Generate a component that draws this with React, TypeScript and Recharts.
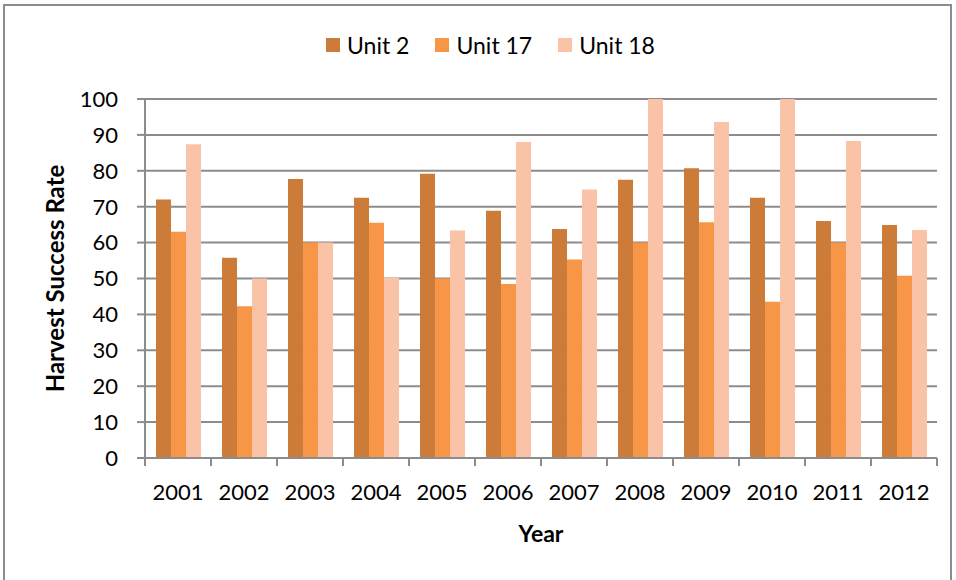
import { BarChart, Bar, XAxis, YAxis, Legend, CartesianGrid } from "recharts";

const years = ["2001", "2002", "2003", "2004", "2005", "2006", "2007", "2008", "2009", "2010", "2011", "2012"];
const unit2 = [72, 55.8, 77.7, 72.5, 79.2, 68.9, 63.8, 77.5, 80.7, 72.5, 66, 64.9];
const unit17 = [63, 42.3, 60, 65.5, 50, 48.5, 55.3, 60, 65.7, 43.5, 60, 50.8];
const unit18 = [87.4, 50, 60, 50.2, 63.4, 88, 74.8, 100, 93.6, 100, 88.3, 63.5];
const yTicks = [0, 10, 20, 30, 40, 50, 60, 70, 80, 90, 100];

const series = [
  { key: "unit2", name: "Unit 2", color: "#CC7B38" },
  { key: "unit17", name: "Unit 17", color: "#F79646" },
  { key: "unit18", name: "Unit 18", color: "#FAC3A7" },
];

const data = years.map((year, i) => ({
  year,
  unit2: unit2[i],
  unit17: unit17[i],
  unit18: unit18[i],
}));

const FONT = "Lato, 'Open Sans', sans-serif";
const AXIS = "#8c8c8c";

function YearTick(props: any) {
  const { x, y, payload, index } = props;
  const half = payload?.offset ?? 33;
  return (
    <g>
      <line x1={x - half} x2={x - half} y1={y - 8} y2={y} stroke={AXIS} strokeWidth={2} />
      {index === years.length - 1 && (
        <line x1={x + half} x2={x + half} y1={y - 8} y2={y} stroke={AXIS} strokeWidth={2} />
      )}
      <text x={x} y={y + 34} textAnchor="middle" fill="#000" fontSize={22} fontFamily={FONT}>
        {payload.value}
      </text>
    </g>
  );
}

function LegendContent() {
  return (
    <div
      style={{
        display: "flex",
        justifyContent: "center",
        alignItems: "center",
        gap: 26,
        paddingLeft: 44,
        fontFamily: FONT,
        fontSize: 23,
        height: 30,
      }}
    >
      {series.map((s) => (
        <div key={s.key} style={{ display: "flex", alignItems: "center" }}>
          <span style={{ width: 14, height: 14, background: s.color, display: "inline-block", marginRight: 7 }} />
          <span>{s.name}</span>
        </div>
      ))}
    </div>
  );
}

export default function App() {
  return (
    <div style={{ position: "absolute", left: 0, top: 0, width: 956, height: 580, background: "#fff" }}>
      <div
        style={{
          position: "absolute",
          left: 3,
          top: 4,
          width: 949,
          height: 590,
          border: "2px solid #8c8c8c",
          boxSizing: "border-box",
        }}
      />
      <BarChart
        width={956}
        height={580}
        data={data}
        barGap={0}
        barCategoryGap="16.7%"
        margin={{ top: 69, right: 19, bottom: 47, left: 0 }}
        style={{ position: "absolute", left: 0, top: 0 }}
      >
        <CartesianGrid vertical={false} stroke={AXIS} strokeWidth={2} />
        <XAxis
          dataKey="year"
          stroke={AXIS}
          strokeWidth={2}
          tickLine={false}
          height={75}
          tick={<YearTick />}
          interval={0}
          label={{ value: "Year", position: "insideBottom", offset: -9, fontFamily: FONT, fontSize: 23, fontWeight: 700, fill: "#000" }}
        />
        <YAxis
          domain={[0, 100]}
          ticks={yTicks}
          width={145}
          stroke={AXIS}
          strokeWidth={2}
          tickSize={8}
          tickMargin={19}
          tick={{ fill: "#000", fontSize: 22, fontFamily: FONT }}
          label={{
            value: "Harvest Success Rate",
            angle: -90,
            position: "insideLeft",
            offset: 55,
            style: { textAnchor: "middle" },
            fontFamily: FONT,
            fontSize: 24,
            fontWeight: 700,
            fill: "#000",
          }}
        />
        <Legend verticalAlign="top" content={<LegendContent />} wrapperStyle={{ top: 30 }} />
        {series.map((s) => (
          <Bar key={s.key} dataKey={s.key} name={s.name} fill={s.color} isAnimationActive={false} />
        ))}
      </BarChart>
    </div>
  );
}
